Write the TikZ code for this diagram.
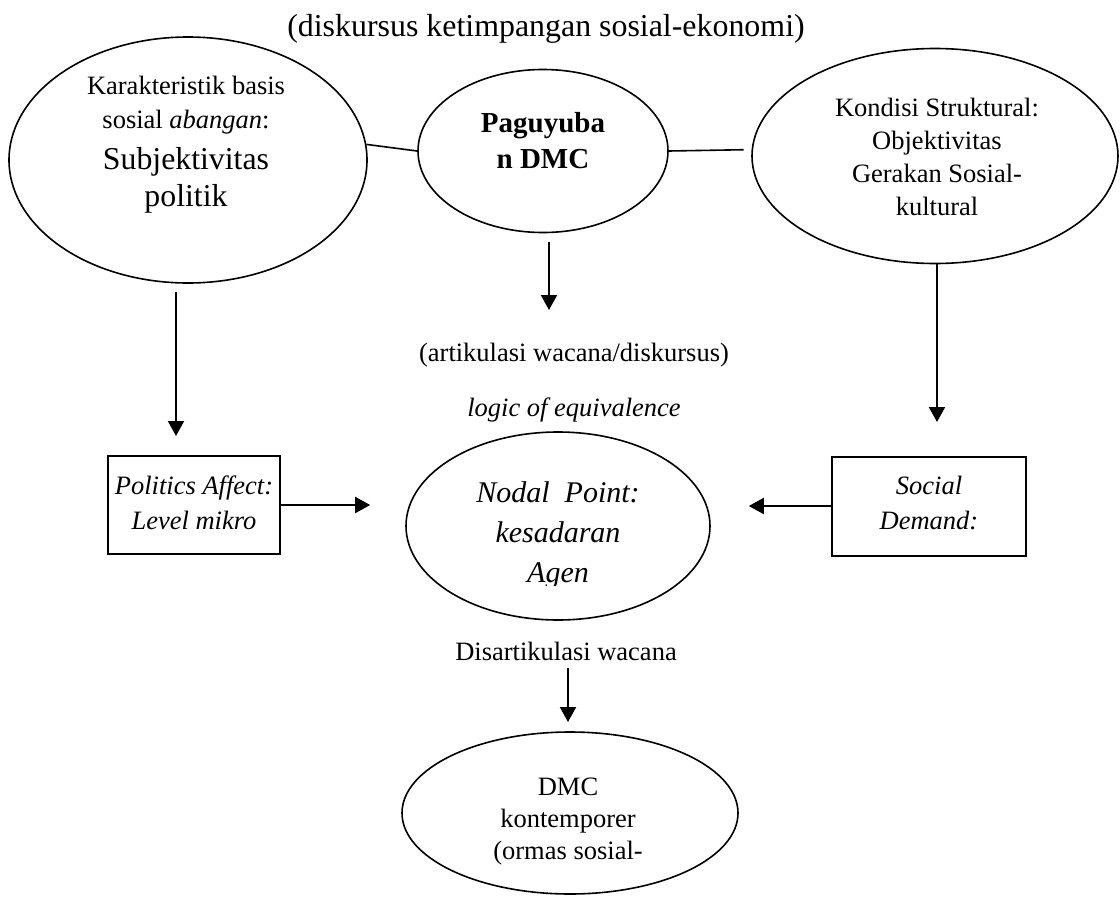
\documentclass[tikz,border=0pt]{standalone}
\usepackage{fontspec}
\setmainfont{Liberation Serif}
\usetikzlibrary{arrows.meta,shapes.geometric}
\begin{document}
\begin{tikzpicture}[x=1pt,y=-1pt,
  oval/.style={ellipse,draw,line width=1.6pt,inner sep=0pt},
  box/.style={rectangle,draw,line width=2pt,inner sep=0pt},
  txt/.style={align=center,inner sep=0pt,anchor=base},
  arr/.style={line width=2pt,-{Triangle[length=15pt,width=16pt]}},
  ln/.style={line width=1.6pt},
  sm/.style={font=\fontsize{26.5}{34}\selectfont}]
\useasboundingbox (0,0) rectangle (1120,897);

% title
\node[txt,font=\fontsize{31.9}{36}\selectfont] (title) at (546,36) {(diskursus ketimpangan sosial-ekonomi)};

% ellipses
\node[oval,minimum width=358,minimum height=246] (L) at (188,160) {};
\node[oval,minimum width=250,minimum height=163] (M) at (543,151) {};
\node[oval,minimum width=366,minimum height=215] (R) at (935,156) {};
\node[oval,minimum width=304,minimum height=188] (N) at (558,526) {};
\node[oval,minimum width=336,minimum height=162] (D) at (570,813) {};

% boxes
\node[box,minimum width=172,minimum height=98] (LB) at (194,505) {};
\node[box,minimum width=194,minimum height=99] (RB) at (929,506) {};

% texts (anchor = baseline of the last line)
\node[txt,sm] (Lt) at (186,206) {Karakteristik basis\\sosial \textit{abangan}:\\[7pt]{\fontsize{31.8}{34}\selectfont Subjektivitas}\\[3pt]{\fontsize{31.8}{34}\selectfont politik}};
\node[txt,font=\fontsize{29}{36}\selectfont\bfseries] (Mt) at (543,168) {Paguyuba\\n DMC};
\node[txt,font=\fontsize{26.5}{33}\selectfont] (Rt) at (937,215) {Kondisi Struktural:\\Objektivitas\\Gerakan Sosial-\\kultural};
\node[txt,sm] (art) at (574,361) {(artikulasi wacana/diskursus)};
\node[txt,font=\fontsize{26.5}{34}\selectfont\itshape] (loe) at (574,416) {logic of equivalence};
\node[txt,font=\fontsize{26.5}{35}\selectfont\itshape] (LBt) at (194,529) {Politics Affect:\\Level mikro};
\node[txt,font=\fontsize{26.5}{35}\selectfont\itshape] (RBt) at (929,529) {Social\\Demand:};
\begin{scope}
  \clip (400,430) rectangle (720,585);
  \node[txt,font=\fontsize{30}{40}\selectfont\itshape] (Nt) at (558,582) {Nodal\ \ Point:\\kesadaran\\Agen};
\end{scope}
\node[txt,sm] (dis) at (566,660) {Disartikulasi wacana};
\node[txt,font=\fontsize{26.5}{32}\selectfont] (Dt) at (568,859) {DMC\\kontemporer\\(ormas sosial-};

% connectors
\draw[ln] (L.5) -- (M.west);
\draw[ln,shorten >=8pt] (M.east) -- (R.178);
\coordinate (a1s) at (176,292);
\coordinate (a1e) at (176,436);
\draw[arr] (a1s) -- (a1e);
\coordinate (a2s) at (549,242);
\coordinate (a2e) at (549,310);
\draw[arr] (a2s) -- (a2e);
\coordinate (a3e) at (937,422);
\draw[arr] (R.south -| a3e) -- (a3e);
\draw[arr,shorten >=35pt] (LB.east) -- (N.west |- LB.east);
\draw[arr,shorten >=38pt] (RB.west) -- (N.east |- RB.west);
\coordinate (a4s) at (568,668);
\coordinate (a4e) at (568,722);
\draw[arr] (a4s) -- (a4e);
\end{tikzpicture}
\end{document}
